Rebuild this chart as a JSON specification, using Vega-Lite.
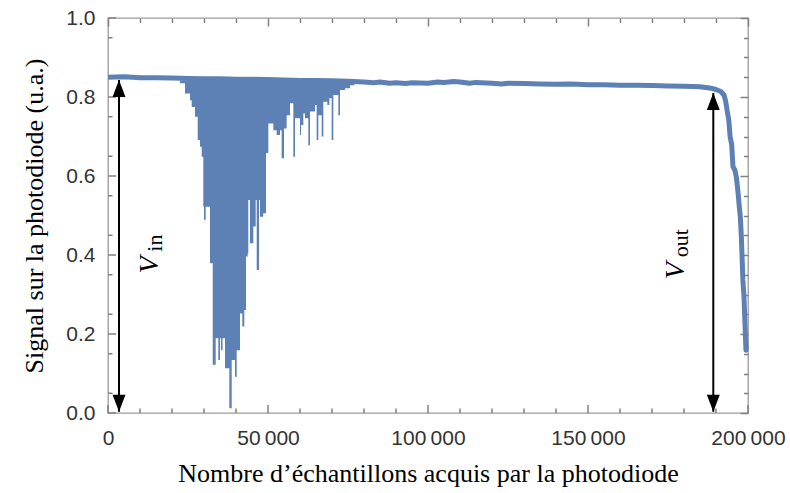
{
  "$schema": "https://vega.github.io/schema/vega-lite/v6.json",
  "width": 640,
  "height": 395,
  "autosize": {"type": "none"},
  "padding": {"left": 108, "top": 18, "right": 42, "bottom": 80},
  "background": "white",
  "config": {
    "view": {"stroke": "#9a9a9a", "strokeWidth": 1.3},
    "axis": {"grid": false, "domain": false, "labelFont": "Liberation Sans", "labelFontSize": 21, "labelColor": "#333333", "titleFont": "Liberation Serif", "titleFontSize": 26, "titleFontWeight": "normal", "titleColor": "black"}
  },
  "resolve": {"axis": {"x": "independent", "y": "independent"}},
  "layer": [
    {
      "data": {"values": [
        {"x": 22500, "lo": 0.835}, {"x": 24063, "lo": 0.809}, {"x": 25625, "lo": 0.792}, {"x": 26156, "lo": 0.775},
        {"x": 27188, "lo": 0.75}, {"x": 28031, "lo": 0.691}, {"x": 28750, "lo": 0.674}, {"x": 29281, "lo": 0.649},
        {"x": 29781, "lo": 0.522}, {"x": 30000, "lo": 0.489}, {"x": 30531, "lo": 0.522}, {"x": 31344, "lo": 0.522},
        {"x": 31875, "lo": 0.379}, {"x": 32719, "lo": 0.122}, {"x": 33656, "lo": 0.189}, {"x": 34469, "lo": 0.134},
        {"x": 35000, "lo": 0.189}, {"x": 35313, "lo": 0.159}, {"x": 35800, "lo": 0.189}, {"x": 36563, "lo": 0.113},
        {"x": 37906, "lo": 0.012}, {"x": 38656, "lo": 0.134}, {"x": 39688, "lo": 0.092}, {"x": 40219, "lo": 0.159},
        {"x": 41250, "lo": 0.252}, {"x": 41969, "lo": 0.219}, {"x": 42594, "lo": 0.261}, {"x": 43125, "lo": 0.396},
        {"x": 43656, "lo": 0.404}, {"x": 43844, "lo": 0.539}, {"x": 44375, "lo": 0.43}, {"x": 45406, "lo": 0.472},
        {"x": 46156, "lo": 0.539}, {"x": 46469, "lo": 0.362}, {"x": 47188, "lo": 0.539}, {"x": 47500, "lo": 0.497},
        {"x": 48500, "lo": 0.506}, {"x": 49375, "lo": 0.658}, {"x": 50104, "lo": 0.733}, {"x": 51667, "lo": 0.716},
        {"x": 52708, "lo": 0.704}, {"x": 53750, "lo": 0.716}, {"x": 54271, "lo": 0.645}, {"x": 55000, "lo": 0.72},
        {"x": 55833, "lo": 0.754}, {"x": 56875, "lo": 0.784}, {"x": 57917, "lo": 0.649}, {"x": 58438, "lo": 0.746},
        {"x": 60000, "lo": 0.704}, {"x": 60313, "lo": 0.729}, {"x": 61042, "lo": 0.758}, {"x": 61563, "lo": 0.746},
        {"x": 62604, "lo": 0.678}, {"x": 63125, "lo": 0.763}, {"x": 64688, "lo": 0.78}, {"x": 65208, "lo": 0.691},
        {"x": 65729, "lo": 0.754}, {"x": 66771, "lo": 0.7}, {"x": 67292, "lo": 0.788}, {"x": 68542, "lo": 0.78},
        {"x": 69167, "lo": 0.797}, {"x": 69896, "lo": 0.691}, {"x": 70417, "lo": 0.805}, {"x": 71979, "lo": 0.754},
        {"x": 72500, "lo": 0.818}, {"x": 74063, "lo": 0.822}, {"x": 75625, "lo": 0.83}, {"x": 77000, "lo": 0.835}
      ]},
      "mark": {"type": "area", "interpolate": "step-after", "color": "#5E81B5", "opacity": 1},
      "encoding": {
        "x": {"field": "x", "type": "quantitative", "scale": {"domain": [0, 200000], "nice": false, "zero": false}, "axis": null},
        "y": {"field": "lo", "type": "quantitative", "scale": {"domain": [0, 1], "nice": false}, "axis": null},
        "y2": {"datum": 0.842}
      }
    },
    {
      "data": {"values": [
        {"x": 0, "y": 0.850}, {"x": 5000, "y": 0.851}, {"x": 10000, "y": 0.849}, {"x": 15000, "y": 0.849},
        {"x": 20000, "y": 0.848}, {"x": 25000, "y": 0.847}, {"x": 30000, "y": 0.846}, {"x": 35000, "y": 0.846},
        {"x": 40000, "y": 0.845}, {"x": 45000, "y": 0.845}, {"x": 50000, "y": 0.844}, {"x": 55000, "y": 0.843},
        {"x": 60000, "y": 0.842}, {"x": 65000, "y": 0.842}, {"x": 70000, "y": 0.841}, {"x": 75000, "y": 0.840},
        {"x": 80000, "y": 0.838}, {"x": 83000, "y": 0.836}, {"x": 85000, "y": 0.838}, {"x": 88000, "y": 0.835},
        {"x": 90000, "y": 0.836}, {"x": 93000, "y": 0.834}, {"x": 95000, "y": 0.836},
        {"x": 100000, "y": 0.835}, {"x": 103000, "y": 0.838}, {"x": 105000, "y": 0.837}, {"x": 108000, "y": 0.839},
        {"x": 110000, "y": 0.838}, {"x": 113000, "y": 0.835}, {"x": 115000, "y": 0.837},
        {"x": 120000, "y": 0.835}, {"x": 123000, "y": 0.833}, {"x": 125000, "y": 0.835}, {"x": 130000, "y": 0.834}, {"x": 135000, "y": 0.833},
        {"x": 140000, "y": 0.832}, {"x": 145000, "y": 0.833}, {"x": 150000, "y": 0.831}, {"x": 155000, "y": 0.831},
        {"x": 160000, "y": 0.830}, {"x": 165000, "y": 0.830}, {"x": 170000, "y": 0.829}, {"x": 175000, "y": 0.828},
        {"x": 180000, "y": 0.827}, {"x": 185000, "y": 0.826}, {"x": 188000, "y": 0.823}, {"x": 190000, "y": 0.819},
        {"x": 191500, "y": 0.814}, {"x": 192500, "y": 0.805}, {"x": 193000, "y": 0.79}, {"x": 193600, "y": 0.76},
        {"x": 194000, "y": 0.742}, {"x": 194400, "y": 0.70}, {"x": 194900, "y": 0.68}, {"x": 195300, "y": 0.624},
        {"x": 195900, "y": 0.615}, {"x": 196400, "y": 0.595}, {"x": 196900, "y": 0.557}, {"x": 197300, "y": 0.52},
        {"x": 197600, "y": 0.497}, {"x": 197900, "y": 0.45}, {"x": 198150, "y": 0.396}, {"x": 198400, "y": 0.337},
        {"x": 198750, "y": 0.294}, {"x": 199050, "y": 0.228}, {"x": 199350, "y": 0.159}, {"x": 199550, "y": 0.17}
      ]},
      "mark": {"type": "line", "color": "#5E81B5", "strokeWidth": 5, "strokeJoin": "round", "strokeCap": "butt"},
      "encoding": {
        "x": {"field": "x", "type": "quantitative",
              "axis": {"orient": "bottom", "values": [0, 50000, 100000, 150000, 200000], "ticks": false, "labelPadding": 14,
                       "labelExpr": "datum.value == 0 ? '0' : format(datum.value / 1000, 'd') + '\u2009000'",
                       "labelOverlap": false, "labelFlush": false,
                       "title": "Nombre d’échantillons acquis par la photodiode", "titlePadding": 12}},
        "y": {"field": "y", "type": "quantitative",
              "axis": {"orient": "left", "values": [0, 0.2, 0.4, 0.6, 0.8, 1.0], "format": ".1f", "ticks": false, "labelPadding": 13,
                       "labelOverlap": false, "labelFlush": false,
                       "title": "Signal sur la photodiode (u.a.)", "titlePadding": 18}}
      }
    },
    {
      "data": {"values": [{"v": 0}, {"v": 50000}, {"v": 100000}, {"v": 150000}, {"v": 200000}]},
      "mark": {"type": "tick", "orient": "vertical", "size": 8, "thickness": 1.5, "color": "#808080", "opacity": 1, "yOffset": -4},
      "encoding": {
        "x": {"field": "v", "type": "quantitative", "axis": null},
        "y": {"datum": 0, "type": "quantitative", "axis": null}
      }
    },
    {
      "data": {"values": [{"v": 10000}, {"v": 20000}, {"v": 30000}, {"v": 40000}, {"v": 60000}, {"v": 70000}, {"v": 80000}, {"v": 90000}, {"v": 110000}, {"v": 120000}, {"v": 130000}, {"v": 140000}, {"v": 160000}, {"v": 170000}, {"v": 180000}, {"v": 190000}]},
      "mark": {"type": "tick", "orient": "vertical", "size": 4.5, "thickness": 1.5, "color": "#808080", "opacity": 1, "yOffset": -2.25},
      "encoding": {
        "x": {"field": "v", "type": "quantitative", "axis": null},
        "y": {"datum": 0, "type": "quantitative", "axis": null}
      }
    },
    {
      "data": {"values": [{"v": 0}, {"v": 0.2}, {"v": 0.4}, {"v": 0.6}, {"v": 0.8}, {"v": 1.0}]},
      "mark": {"type": "tick", "orient": "horizontal", "size": 8, "thickness": 1.5, "color": "#808080", "opacity": 1, "xOffset": 4},
      "encoding": {
        "y": {"field": "v", "type": "quantitative", "axis": null},
        "x": {"datum": 0, "type": "quantitative", "axis": null}
      }
    },
    {
      "data": {"values": [{"v": 0.05}, {"v": 0.15}, {"v": 0.25}, {"v": 0.35}, {"v": 0.45}, {"v": 0.55}, {"v": 0.65}, {"v": 0.75}, {"v": 0.85}, {"v": 0.95}]},
      "mark": {"type": "tick", "orient": "horizontal", "size": 4.5, "thickness": 1.5, "color": "#808080", "opacity": 1, "xOffset": 2.25},
      "encoding": {
        "y": {"field": "v", "type": "quantitative", "axis": null},
        "x": {"datum": 0, "type": "quantitative", "axis": null}
      }
    },
    {
      "data": {"values": [
        {"x": 3438, "y": 0.003, "y2": 0.843},
        {"x": 189156, "y": 0.003, "y2": 0.81}
      ]},
      "mark": {"type": "rule", "color": "black", "strokeWidth": 2},
      "encoding": {
        "x": {"field": "x", "type": "quantitative",
              "axis": {"orient": "top", "values": [0, 10000, 20000, 30000, 40000, 50000, 60000, 70000, 80000, 90000, 100000, 110000, 120000, 130000, 140000, 150000, 160000, 170000, 180000, 190000, 200000], "labels": false, "ticks": true, "tickColor": "#808080", "tickWidth": 1.5,
                       "tickSize": {"condition": {"test": "datum.value % 50000 === 0", "value": -8}, "value": -4.5}, "title": null}},
        "y": {"field": "y", "type": "quantitative",
              "axis": {"orient": "right", "values": [0, 0.05, 0.1, 0.15, 0.2, 0.25, 0.3, 0.35, 0.4, 0.45, 0.5, 0.55, 0.6, 0.65, 0.7, 0.75, 0.8, 0.85, 0.9, 0.95, 1.0], "labels": false, "ticks": true, "tickColor": "#808080", "tickWidth": 1.5,
                       "tickSize": {"condition": {"test": "round(datum.value * 100) % 20 === 0", "value": -8}, "value": -4.5}, "title": null}},
        "y2": {"field": "y2"}
      }
    },
    {
      "data": {"values": [
        {"x": 3438, "y": 0.843},
        {"x": 189156, "y": 0.81}
      ]},
      "mark": {"type": "point", "shape": "M0,-1L-0.76,1L0.76,1Z", "size": 289, "filled": true, "color": "black", "opacity": 1, "yOffset": 8.5},
      "encoding": {
        "x": {"field": "x", "type": "quantitative", "axis": null},
        "y": {"field": "y", "type": "quantitative", "axis": null}
      }
    },
    {
      "data": {"values": [
        {"x": 3438, "y": 0.003},
        {"x": 189156, "y": 0.003}
      ]},
      "mark": {"type": "point", "shape": "M0,1L-0.76,-1L0.76,-1Z", "size": 289, "filled": true, "color": "black", "opacity": 1, "yOffset": -8.5},
      "encoding": {
        "x": {"field": "x", "type": "quantitative", "axis": null},
        "y": {"field": "y", "type": "quantitative", "axis": null}
      }
    },
    {
      "data": {"values": [
        {"t": "V", "x": 15625, "y": 0.375},
        {"t": "V", "x": 180000, "y": 0.36}
      ]},
      "mark": {"type": "text", "font": "Liberation Serif", "fontStyle": "italic", "fontSize": 28, "angle": 270, "align": "center", "baseline": "alphabetic", "color": "black"},
      "encoding": {
        "x": {"field": "x", "type": "quantitative", "axis": null},
        "y": {"field": "y", "type": "quantitative", "axis": null},
        "text": {"field": "t"}
      }
    },
    {
      "data": {"values": [
        {"t": "in", "x": 16875, "y": 0.43},
        {"t": "out", "x": 181250, "y": 0.43}
      ]},
      "mark": {"type": "text", "font": "Liberation Serif", "fontSize": 22, "angle": 270, "align": "center", "baseline": "alphabetic", "color": "black"},
      "encoding": {
        "x": {"field": "x", "type": "quantitative", "axis": null},
        "y": {"field": "y", "type": "quantitative", "axis": null},
        "text": {"field": "t"}
      }
    }
  ]
}
